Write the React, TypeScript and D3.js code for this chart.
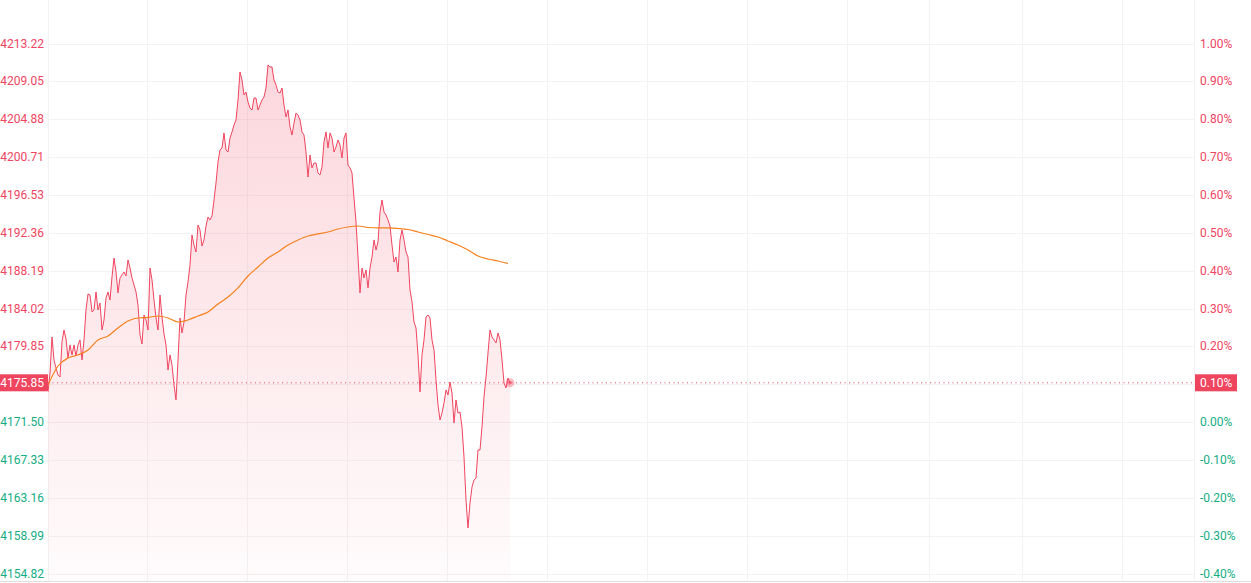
import React from 'react';
import * as d3 from 'd3';

// previous close, used as the 0.00% reference
const prevClose = 4171.5;

const priceTicks = [
  4154.82, 4158.99, 4163.16, 4167.33, 4171.5, 4175.68, 4179.85, 4184.02,
  4188.19, 4192.36, 4196.53, 4200.71, 4204.88, 4209.05, 4213.22,
];
const priceTickLabels = [
  '4154.82', '4158.99', '4163.16', '4167.33', '4171.50', '4175.68', '4179.85', '4184.02',
  '4188.19', '4192.36', '4196.53', '4200.71', '4204.88', '4209.05', '4213.22',
];
const pctTickLabels = [
  '-0.40%', '-0.30%', '-0.20%', '-0.10%', '0.00%', '0.10%', '0.20%', '0.30%',
  '0.40%', '0.50%', '0.60%', '0.70%', '0.80%', '0.90%', '1.00%',
];

// one slot per tick of the session, the chart is only partly filled
const sessionSlots = 573;
const timeGridSlots = [49.35, 99.35, 149.35, 199.35, 249.35, 299.35, 349.35, 399.35, 440.65, 486.85, 536.85];

const prices = [
  4174.84, 4176.93, 4180.90, 4178.36, 4177.48, 4176.71, 4176.49, 4180.35, 4181.67, 4180.68,
  4178.58, 4180.02, 4178.92, 4180.02, 4178.80, 4180.02, 4180.57, 4178.36, 4180.57, 4183.87,
  4185.64, 4185.53, 4183.65, 4183.87, 4185.86, 4183.87, 4184.64, 4181.67, 4182.77, 4185.20,
  4185.86, 4184.97, 4187.51, 4189.60, 4188.06, 4185.75, 4187.40, 4187.73, 4188.06, 4187.62,
  4189.38, 4188.50, 4187.40, 4186.63, 4185.86, 4184.42, 4181.12, 4180.13, 4183.32, 4182.77,
  4181.67, 4188.50, 4187.18, 4184.97, 4182.99, 4181.67, 4185.53, 4183.10, 4181.23, 4180.02,
  4177.26, 4178.92, 4177.81, 4175.61, 4173.96, 4178.36, 4182.99, 4181.34, 4182.55, 4185.53,
  4186.96, 4188.83, 4192.14, 4191.03, 4190.26, 4193.24, 4192.69, 4190.92, 4191.59, 4193.13,
  4194.12, 4193.79, 4194.23, 4195.99, 4197.87, 4200.18, 4201.50, 4201.72, 4203.38, 4201.50,
  4201.28, 4202.82, 4203.49, 4204.26, 4204.81, 4207.01, 4210.10, 4209.21, 4207.56, 4207.89,
  4206.79, 4206.13, 4205.91, 4207.23, 4207.23, 4205.91, 4206.46, 4207.01, 4207.34, 4208.33,
  4210.87, 4210.65, 4210.65, 4209.21, 4208.66, 4207.89, 4207.78, 4208.33, 4206.46, 4205.14,
  4205.91, 4204.04, 4203.15, 4204.48, 4205.58, 4205.36, 4204.81, 4203.49, 4203.15, 4201.28,
  4198.53, 4200.95, 4199.52, 4200.07, 4200.07, 4198.97, 4198.75, 4199.63, 4202.38, 4203.49,
  4201.72, 4203.38, 4202.82, 4201.28, 4201.83, 4202.60, 4202.05, 4200.62, 4202.82, 4203.38,
  4199.85, 4199.52, 4198.97, 4196.21, 4193.57, 4189.71, 4185.75, 4188.50, 4187.40, 4188.28,
  4186.30, 4188.50, 4189.71, 4191.59, 4190.48, 4191.37, 4194.67, 4195.99, 4194.67, 4194.34,
  4193.79, 4193.13, 4191.03, 4189.16, 4189.71, 4188.06, 4191.59, 4192.69, 4191.59, 4190.26,
  4189.71, 4186.08, 4184.75, 4182.55, 4181.89, 4178.92, 4174.84, 4178.92, 4180.57, 4183.10,
  4183.32, 4182.99, 4180.57, 4179.47, 4176.16, 4173.41, 4171.75, 4172.52, 4173.63, 4175.06,
  4174.51, 4175.94, 4174.73, 4171.42, 4173.96, 4172.52, 4172.63, 4170.98, 4167.68, 4162.94,
  4159.85, 4162.61, 4164.37, 4165.14, 4165.36, 4168.45, 4168.45, 4170.98, 4174.29, 4176.49,
  4179.14, 4181.67, 4180.90, 4180.57, 4180.24, 4181.34, 4180.57, 4178.36, 4175.83, 4175.28,
  4176.38, 4175.85,
];

// average price line, read every 5 slots
const avgStep = 5;
const avgPrices = [
  4175.61, 4177.70, 4178.58, 4178.92, 4179.47, 4180.57, 4181.01, 4181.89, 4182.66, 4182.99,
  4183.05, 4183.21, 4182.99, 4182.55, 4182.77, 4183.21, 4183.65, 4184.53, 4185.31, 4186.30,
  4187.62, 4188.61, 4189.60, 4190.26, 4191.03, 4191.59, 4192.03, 4192.25, 4192.47, 4192.80,
  4193.02, 4193.13, 4192.96, 4192.91, 4192.91, 4192.85, 4192.74, 4192.47, 4192.19, 4191.92,
  4191.48, 4191.03, 4190.48, 4189.82, 4189.49, 4189.27, 4189.00,
];

const W = 1251;
const H = 583;
const left = 48;
const right = 1194.5;
const bottom = 581;

const red = '#f0455f';
const green = '#14ad84';
const gridColor = '#f3f3f3';
const font = 'Roboto, sans-serif';

export default function App() {
  const x = d3.scaleLinear().domain([0, sessionSlots]).range([left, right - 0.5]);
  const y = d3.scaleLinear().domain([4154.01, 4218.03]).range([bottom, 0]);

  const line = d3.line<number>().x((_, i) => x(i)).y((d) => y(d));
  const area = d3.area<number>().x((_, i) => x(i)).y0(bottom).y1((d) => y(d));
  const avgLine = d3
    .line<number>()
    .x((_, i) => x(i * avgStep))
    .y((d) => y(d))
    .curve(d3.curveMonotoneX);

  const last = prices[prices.length - 1];
  const lastX = x(prices.length - 1);
  const lastY = y(last);
  const lastPct = (((last - prevClose) / prevClose) * 100).toFixed(2) + '%';

  return (
    <div style={{ position: 'absolute', left: 0, top: 0 }}>
      <svg width={W} height={H} style={{ display: 'block' }}>
        <defs>
          <linearGradient id="fillGrad" gradientUnits="userSpaceOnUse" x1="0" y1="0" x2="0" y2={bottom}>
            <stop offset="0%" stopColor={red} stopOpacity={0.24} />
            <stop offset="100%" stopColor={red} stopOpacity={0.02} />
          </linearGradient>
          <clipPath id="plotClip">
            <rect x={left} y={0} width={right - left} height={bottom} />
          </clipPath>
        </defs>
        <rect width={W} height={H} fill="#fff" />

        {priceTicks.map((p) => (
          <line key={'h' + p} x1={left} x2={right} y1={Math.round(y(p)) + 0.5} y2={Math.round(y(p)) + 0.5} stroke={gridColor} />
        ))}
        {timeGridSlots.map((s) => (
          <line key={'v' + s} x1={Math.round(x(s)) + 0.5} x2={Math.round(x(s)) + 0.5} y1={0} y2={bottom} stroke={gridColor} />
        ))}
        <line x1={left + 0.5} x2={left + 0.5} y1={0} y2={bottom} stroke={gridColor} />
        <line x1={right} x2={right} y1={0} y2={bottom} stroke={gridColor} />

        <g clipPath="url(#plotClip)">
          <path d={area(prices) || ''} fill="url(#fillGrad)" />
          <path d={line(prices) || ''} fill="none" stroke={red} strokeWidth={1} strokeLinejoin="round" />
          <path d={avgLine(avgPrices) || ''} fill="none" stroke="#f7801c" strokeWidth={1.2} />
          <line x1={left} x2={right} y1={lastY} y2={lastY} stroke={red} strokeWidth={1} strokeDasharray="1,3.5" />
          <circle cx={lastX} cy={lastY} r={4.5} fill={red} fillOpacity={0.35} />
          <circle cx={lastX} cy={lastY} r={1.8} fill={red} fillOpacity={0.7} />
        </g>

        <line x1={0} x2={W} y1={bottom + 0.5} y2={bottom + 0.5} stroke="#dedede" />

        {priceTicks.map((p, i) => (
          <text
            key={'l' + p}
            x={44}
            y={y(p)}
            textAnchor="end"
            dominantBaseline="central"
            fontFamily={font}
            fontSize={12}
            fill={p > prevClose ? red : green}
          >
            {priceTickLabels[i]}
          </text>
        ))}
        {priceTicks.map((p, i) => (
          <text
            key={'r' + p}
            x={1200}
            y={y(p)}
            dominantBaseline="central"
            fontFamily={font}
            fontSize={12}
            fill={p > prevClose ? red : green}
          >
            {pctTickLabels[i]}
          </text>
        ))}

        <rect x={0} y={lastY - 8.5} width={left} height={17} fill={red} />
        <text x={44} y={lastY} textAnchor="end" dominantBaseline="central" fontFamily={font} fontSize={12} fill="#fff">
          {last.toFixed(2)}
        </text>
        <rect x={right + 0.5} y={lastY - 8.5} width={42} height={17} fill={red} />
        <text x={1200} y={lastY} dominantBaseline="central" fontFamily={font} fontSize={12} fill="#fff">
          {lastPct}
        </text>
      </svg>
    </div>
  );
}
